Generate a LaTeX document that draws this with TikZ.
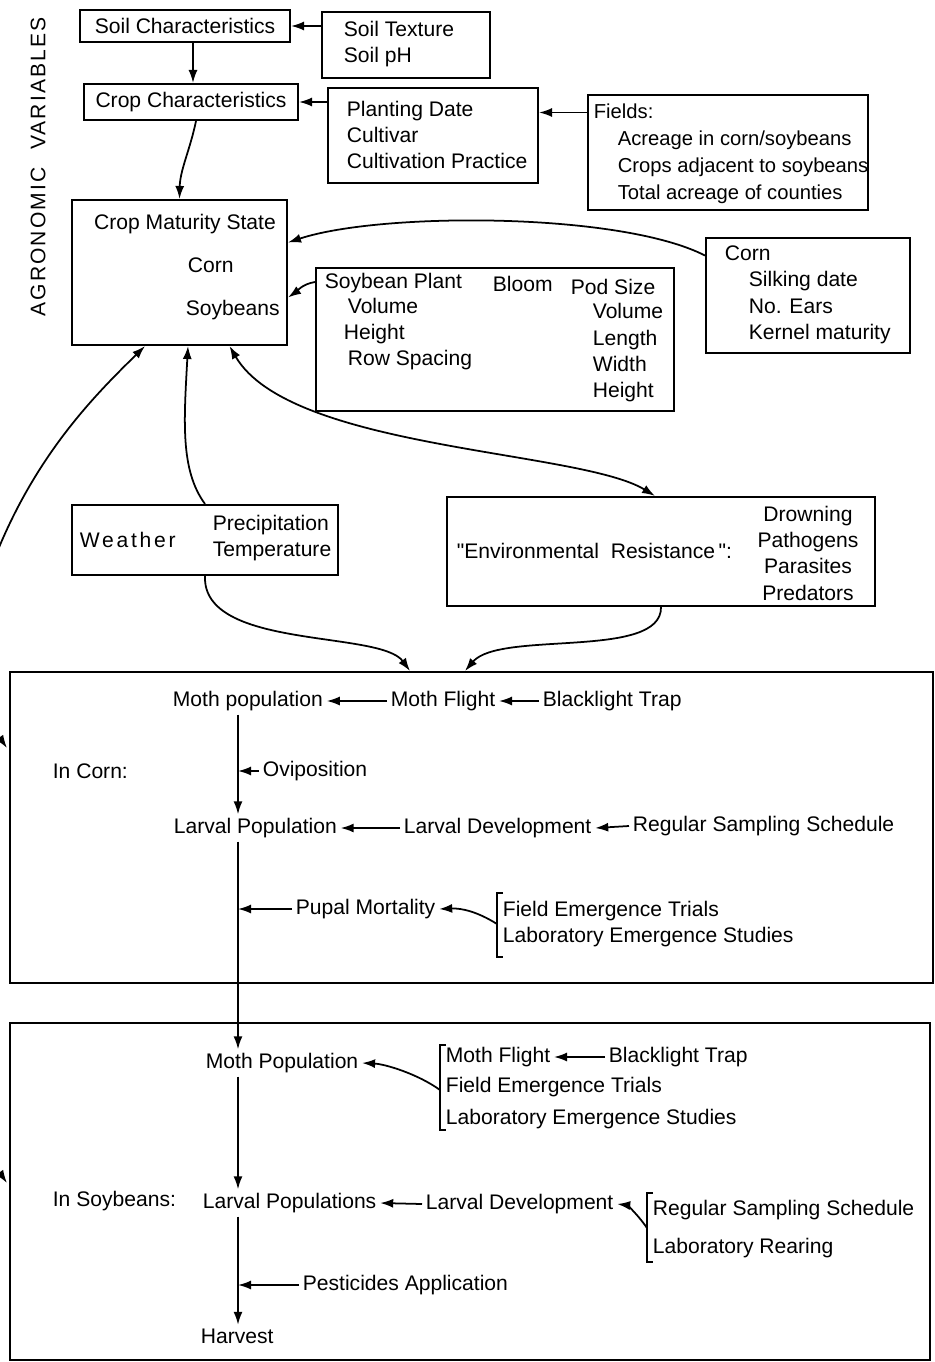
\documentclass[tikz,border=0pt]{standalone}
\usepackage{fontspec}
\setmainfont{Liberation Sans}
\usetikzlibrary{arrows.meta}

\begin{document}
\begin{tikzpicture}[
  x=0.02cm, y=-0.02cm,
  every node/.style={font=\fontsize{12}{15}\selectfont},
  box/.style={draw,line width=1.2pt,inner sep=0pt},
  panel/.style={draw,line width=1.2pt,inner sep=0pt},
  lbl/.style={anchor=west,inner sep=2pt},
  blk/.style={anchor=west,align=left,inner sep=2pt},
  arr/.style={line width=1pt,-{Latex[length=2.6mm,width=1.8mm]}},
  darr/.style={line width=1pt,{Latex[length=2.6mm,width=1.8mm]}-{Latex[length=2.6mm,width=1.8mm]}},
  brk/.style={line width=1pt}
]
  \useasboundingbox (0,0) rectangle (934,1362);

  % agronomic variables
  \node[rotate=90] (agro) at (38,167) {\addfontfeature{LetterSpace=10}AGRONOMIC\hspace{10pt}VARIABLES};
  \node[box,minimum width=4.2cm,minimum height=0.64cm] (soilchar) at (185,26) {Soil Characteristics};
  \node[box,minimum width=3.36cm,minimum height=1.32cm] (soiltex) at (406,45) {};
  \node[blk] (soiltext) at (340,44) {Soil Texture\\Soil pH};
  \node[box,minimum width=4.28cm,minimum height=0.72cm] (cropchar) at (191,102) {Crop Characteristics};
  \node[box,minimum width=4.2cm,minimum height=1.9cm] (planting) at (433,135.5) {};
  \node[blk] (plantext) at (343,135) {Planting Date\\Cultivar\\Cultivation Practice};
  \node[box,minimum width=5.6cm,minimum height=2.3cm] (fields) at (728,152.5) {};
  \node[blk,font=\fontsize{11.5}{15.3}\selectfont] (fieldtext) at (590,154) {Fields:\\\hspace*{0.48cm}Acreage in corn/soybeans\\\hspace*{0.48cm}Crops adjacent to soybeans\\\hspace*{0.48cm}Total acreage of counties};
  \node[box,minimum width=4.3cm,minimum height=2.9cm] (cropmat) at (179.5,272.5) {};
  \node (cms) at (185,224) {Crop Maturity State};
  \node[lbl] (cmcorn) at (184,265) {Corn};
  \node[lbl] (cmsoy) at (182,310) {Soybeans};
  \node[box,minimum width=4.08cm,minimum height=2.3cm] (corn) at (808,295.5) {};
  \node[blk] (corntext) at (721,295) {Corn\\\hspace*{0.48cm}Silking date\\\hspace*{0.48cm}No. Ears\\\hspace*{0.48cm}Kernel maturity};
  \node[box,minimum width=7.16cm,minimum height=2.86cm] (soybox) at (495,339.5) {};
  \node[lbl] (sbp) at (321,283) {Soybean Plant};
  \node[blk] (sbpv) at (340,334) {\hspace*{0.08cm}Volume\\Height\\\hspace*{0.08cm}Row Spacing};
  \node[lbl] (bloom) at (489,284) {Bloom};
  \node[lbl] (pod) at (567,287) {Pod Size};
  \node[blk] (podv) at (589,353) {Volume\\Length\\Width\\Height};
  \node[box,minimum width=5.32cm,minimum height=1.4cm] (weather) at (205,540) {};
  \node[lbl] (wlbl) at (76,540) {\addfontfeature{LetterSpace=13}Weather};
  \node[blk] (wvars) at (209,538) {Precipitation\\Temperature};
  \node[box,minimum width=8.56cm,minimum height=2.18cm] (envbox) at (661,551.5) {};
  \node[lbl] (envlbl) at (453,551) {\textquotedbl Environmental\ \ Resistance\,\textquotedbl:};
  \node[align=center] (envlist) at (808,553) {Drowning\\Pathogens\\Parasites\\Predators};

  \draw[arr] (soiltex.west |- soilchar) -- (soilchar.east);
  \draw[arr] ([xshift=0.16cm]soilchar.south) -- ([xshift=0.16cm]soilchar.south |- cropchar.north);
  \draw[arr] (planting.west |- cropchar) -- (cropchar.east);
  \draw[arr] ([yshift=8mm]fields.west) -- ([yshift=8mm]fields.west -| planting.east);
  \draw[arr] ([xshift=0.1cm]cropchar.south) .. controls (190,150) and (180,170) .. (cropmat.north);
  \draw[arr] ([yshift=8mm]corn.west) .. controls (620,212) and (380,212) .. ([yshift=6mm]cropmat.east);
  \draw[arr] ([yshift=11.5mm]soybox.west) .. controls (302,284) and (296,292) .. ([yshift=-5mm]cropmat.east);
  \draw[arr] (weather.north) .. controls (180,470) and (184,420) .. ([xshift=0.17cm]cropmat.south);
  \draw[darr] ([xshift=1cm]cropmat.south) .. controls (290,450) and (580,450) .. ([xshift=-0.12cm]envbox.north);

  % left return to both crops
  \coordinate (offl) at (-20,600);
  \draw[{Latex[length=2.6mm,width=1.8mm]}-,line width=1pt] ([xshift=-0.69cm]cropmat.south) .. controls (90,400) and (20,470) .. (offl);
  \draw[arr] (offl) -- (-20,715) .. controls (-20,735) and (0,738) .. (7,748);
  \draw[arr] (offl) -- (-20,1150) .. controls (-20,1170) and (0,1173) .. (7,1183);

  % population dynamics
  \node[panel,minimum width=18.46cm,minimum height=6.22cm] (cornpanel) at (471.5,827.5) {};
  \node[panel,minimum width=18.4cm,minimum height=6.74cm] (soypanel) at (470,1191.5) {};
  \draw[arr] (weather.south) .. controls (202,650) and (380,630) .. ([xshift=-1.23cm]cornpanel.north);
  \draw[arr] (envbox.south) .. controls (662,660) and (500,630) .. ([xshift=-0.13cm]cornpanel.north);

  \coordinate (sp) at (238,0);
  \node[lbl] (mothpop) at (169,701) {Moth population};
  \node[lbl] (mothfl) at (387,701) {Moth Flight};
  \node[lbl] (blt) at (539,701) {Blacklight Trap};
  \node[lbl] (incorn) at (49,771) {In Corn:};
  \node[lbl] (ovi) at (259,771) {Oviposition};
  \node[lbl] (larvpop) at (170,828) {Larval Population};
  \node[lbl] (larvdev) at (400,828) {Larval Development};
  \node[lbl] (rss) at (629,826) {Regular Sampling Schedule};
  \node[lbl] (pupal) at (292,909) {Pupal Mortality};
  \node[lbl] (fet) at (499,911) {Field Emergence Trials};
  \node[lbl] (les) at (499,937) {Laboratory Emergence Studies};
  \draw[brk] (503,893) -- (497,893) -- (497,957) -- (503,957);
  \draw[arr] (mothfl.west) -- (mothpop.east);
  \draw[arr] (blt.west) -- (mothfl.east);
  \draw[arr] (mothpop.south -| sp) -- (larvpop.north -| sp);
  \draw[arr] (ovi.west) -- (ovi.west -| sp);
  \draw[arr] (larvdev.west) -- (larvpop.east);
  \draw[arr] (rss.west) -- (larvdev.east);
  \draw[arr] (pupal.west) -- (pupal.west -| sp);
  \draw[arr] (497,924) .. controls (478,912) and (462,908) .. (pupal.east);

  \node[lbl] (mothpop2) at (202,1063) {Moth Population};
  \node[lbl] (mf2) at (442,1057) {Moth Flight};
  \node[lbl] (blt2) at (605,1057) {Blacklight Trap};
  \node[lbl] (fet2) at (442,1087) {Field Emergence Trials};
  \node[lbl] (les2) at (442,1119) {Laboratory Emergence Studies};
  \draw[brk] (446,1045) -- (440,1045) -- (440,1130) -- (446,1130);
  \node[lbl] (insoy) at (49,1201) {In Soybeans:};
  \node[lbl] (larvpops) at (199,1203) {Larval Populations};
  \node[lbl] (larvdev2) at (422,1204) {Larval Development};
  \node[lbl] (rss2) at (649,1210) {Regular Sampling Schedule};
  \node[lbl] (lr) at (649,1248) {Laboratory Rearing};
  \draw[brk] (653,1193) -- (647,1193) -- (647,1262) -- (653,1262);
  \node[lbl] (pest) at (299,1285) {Pesticides Application};
  \node[lbl] (harvest) at (197,1336) {Harvest};

  \draw[arr] (larvpop.south -| sp) -- (mothpop2.north -| sp);
  \draw[arr] (blt2.west) -- (mf2.east);
  \draw[arr] (440,1090) .. controls (418,1074) and (385,1064) .. (mothpop2.east);
  \draw[arr] (mothpop2.south -| sp) -- (larvpops.north -| sp);
  \draw[arr] (larvdev2.west) -- (larvpops.east);
  \draw[arr] (647,1228) .. controls (636,1212) and (626,1205) .. (larvdev2.east);
  \draw[arr] (pest.west) -- (pest.west -| sp);
  \draw[arr] (larvpops.south -| sp) -- (harvest.north -| sp);
\end{tikzpicture}
\end{document}
